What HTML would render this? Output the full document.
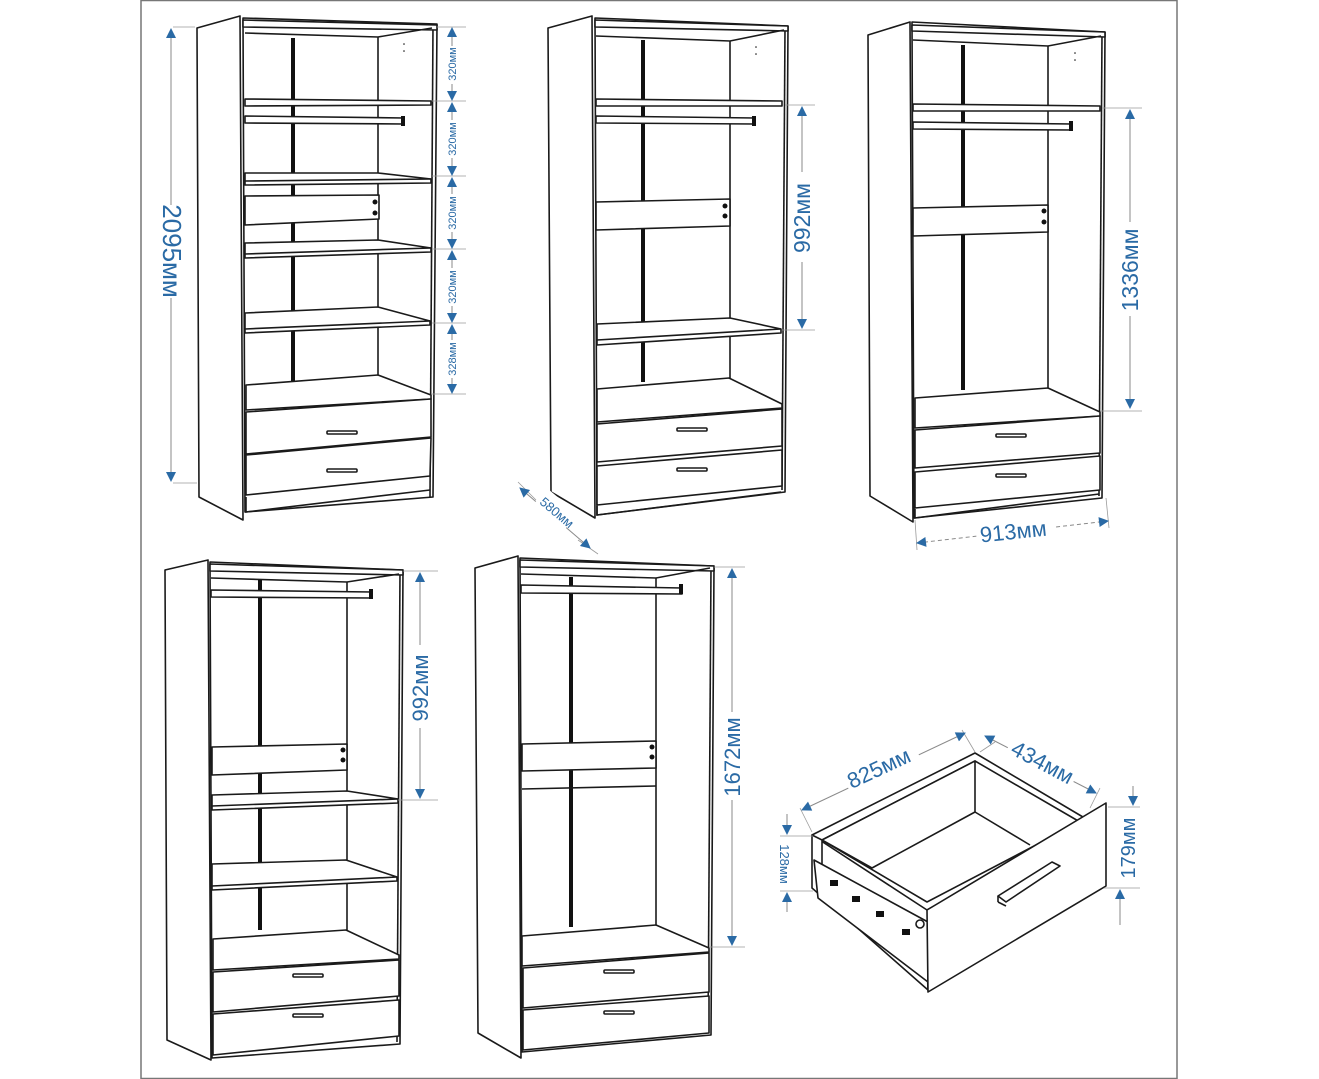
<!DOCTYPE html>
<html><head><meta charset="utf-8"><style>
html,body{margin:0;padding:0;background:#fff;}
svg{display:block;}
.k{fill:#fff;stroke:#1a1a1a;stroke-width:1.6;stroke-linejoin:round;}
.l{stroke:#1a1a1a;stroke-width:1.6;fill:none;}
.d{fill:#111;}
.dim{stroke:#8a8a8a;stroke-width:1;fill:none;}
.ext{stroke:#9a9a9a;stroke-width:0.8;fill:none;}
.t{fill:#2a6aa5;font-family:"Liberation Sans",sans-serif;}
</style></head><body>
<svg width="1319" height="1079" viewBox="0 0 1319 1079" xmlns="http://www.w3.org/2000/svg">
<defs>
<marker id="a" viewBox="0 0 10 10" refX="9" refY="5" markerWidth="14" markerHeight="10" markerUnits="userSpaceOnUse" orient="auto-start-reverse">
<path d="M0,0 L10,5 L0,10 z" fill="#2a6aa5"/></marker>
</defs>
<rect x="141" y="0.5" width="1036" height="1078" fill="none" stroke="#777" stroke-width="1.5"/>

<!-- ===== Wardrobe 1 ===== -->
<polygon class="k" points="197,28 240,16 243,520 199,497"/>
<polygon class="k" points="243,18 437,24 433,497 245,512"/>
<line class="l" x1="433" y1="26" x2="430" y2="497"/>
<polygon class="k" points="243,20 437,25 437,30 243,27"/>
<polyline class="l" points="245,33 378,37 432,28"/>
<line class="l" x1="378" y1="37" x2="378" y2="385"/>
<rect class="d" x="291" y="38" width="4" height="345"/>
<circle class="d" cx="404" cy="44" r="0.8"/><circle class="d" cx="404" cy="51" r="0.8"/>
<polygon class="k" points="245,99 431,101 431,105 245,106"/>
<polygon class="k" points="245,116 404,118 404,124 245,123"/>
<rect class="d" x="401" y="116" width="4" height="10"/>
<polygon class="k" points="245,173 378,173 431,179 431,183 245,185"/>
<line class="l" x1="245" y1="181" x2="431" y2="179"/>
<polygon class="k" points="245,196 379,195 379,219 245,225"/>
<circle class="d" cx="375" cy="202" r="2.5"/><circle class="d" cx="375" cy="213" r="2.5"/>
<polygon class="k" points="245,243 378,240 431,248 431,252 245,258"/>
<line class="l" x1="245" y1="254" x2="431" y2="248"/>
<polygon class="k" points="245,313 378,307 430,321 430,325 245,333"/>
<line class="l" x1="245" y1="329" x2="430" y2="321"/>
<polygon class="k" points="246,385 378,375 431,395 431,399 246,410"/>
<polygon class="k" points="246,412 431,399 431,437 246,454"/>
<polygon class="k" points="246,455 431,438 430,476 246,495"/>
<rect class="k" x="327" y="431" width="30" height="3" rx="1"/>
<rect class="k" x="327" y="469" width="30" height="3" rx="1"/>
<polyline class="l" points="246,497 246,512 430,490"/>
<!-- dims W1 -->
<line class="ext" x1="173" y1="27" x2="195" y2="27"/><line class="ext" x1="173" y1="483" x2="197" y2="483"/>
<line class="dim" x1="171" y1="29" x2="171" y2="205" marker-start="url(#a)"/>
<line class="dim" x1="171" y1="298" x2="171" y2="481" marker-end="url(#a)"/>
<text class="t" font-size="26" transform="translate(163,251) rotate(90)" text-anchor="middle">2095мм</text>
<g class="ext">
<line x1="437" y1="27" x2="466" y2="27"/><line x1="432" y1="101" x2="466" y2="101"/><line x1="432" y1="176" x2="466" y2="176"/><line x1="432" y1="249" x2="466" y2="249"/><line x1="432" y1="323" x2="466" y2="323"/><line x1="432" y1="394" x2="466" y2="394"/>
</g>
<g class="dim">
<line x1="452" y1="28" x2="452" y2="100" marker-start="url(#a)" marker-end="url(#a)"/>
<line x1="452" y1="103" x2="452" y2="175" marker-start="url(#a)" marker-end="url(#a)"/>
<line x1="452" y1="178" x2="452" y2="248" marker-start="url(#a)" marker-end="url(#a)"/>
<line x1="452" y1="251" x2="452" y2="322" marker-start="url(#a)" marker-end="url(#a)"/>
<line x1="452" y1="325" x2="452" y2="393" marker-start="url(#a)" marker-end="url(#a)"/>
</g>
<g class="t" font-size="11" text-anchor="middle">
<rect x="446" y="46" width="13" height="38" fill="#fff"/><text transform="translate(456,64) rotate(-90)">320мм</text>
<rect x="446" y="120" width="13" height="38" fill="#fff"/><text transform="translate(456,139) rotate(-90)">320мм</text>
<rect x="446" y="194" width="13" height="38" fill="#fff"/><text transform="translate(456,213) rotate(-90)">320мм</text>
<rect x="446" y="268" width="13" height="38" fill="#fff"/><text transform="translate(456,287) rotate(-90)">320мм</text>
<rect x="446" y="340" width="13" height="38" fill="#fff"/><text transform="translate(456,359) rotate(-90)">328мм</text>
</g>

<!-- ===== Wardrobe 2 ===== -->
<polygon class="k" points="548,28 592,16 595,518 551,492"/>
<polygon class="k" points="595,18 788,26 785,492 597,515"/>
<line class="l" x1="785" y1="28" x2="782" y2="490"/>
<polygon class="k" points="595,20 788,26 788,31 595,27"/>
<polyline class="l" points="596,36 730,41 784,30"/>
<line class="l" x1="730" y1="41" x2="730" y2="380"/>
<rect class="d" x="641" y="40" width="4" height="342"/>
<circle class="d" cx="756" cy="47" r="0.8"/><circle class="d" cx="756" cy="54" r="0.8"/>
<polygon class="k" points="596,99 782,101 782,106 596,106"/>
<polygon class="k" points="596,116 755,118 755,124 596,123"/>
<rect class="d" x="752" y="116" width="4" height="10"/>
<polygon class="k" points="596,202 730,199 730,226 596,230"/>
<circle class="d" cx="725" cy="206" r="2.5"/><circle class="d" cx="725" cy="216" r="2.5"/>
<polygon class="k" points="597,324 730,318 781,329 781,333 597,345"/>
<line class="l" x1="597" y1="340" x2="781" y2="329"/>
<polygon class="k" points="597,389 729,378 782,404 782,408 597,422"/>
<polygon class="k" points="597,424 782,409 782,446 597,462"/>
<polygon class="k" points="597,466 782,450 782,486 597,505"/>
<rect class="k" x="677" y="428" width="30" height="3" rx="1"/>
<rect class="k" x="677" y="468" width="30" height="3" rx="1"/>
<polyline class="l" points="597,506 597,515 781,492"/>
<g class="ext"><line x1="785" y1="105" x2="815" y2="105"/><line x1="782" y1="330" x2="815" y2="330"/></g>
<line class="dim" x1="802" y1="107" x2="802" y2="172" marker-start="url(#a)"/>
<line class="dim" x1="802" y1="262" x2="802" y2="328" marker-end="url(#a)"/>
<text class="t" font-size="23" transform="translate(810,218) rotate(-90)" text-anchor="middle">992мм</text>
<g class="ext"><line x1="518" y1="482" x2="536" y2="500"/><line x1="578" y1="540" x2="598" y2="554"/></g>
<line class="dim" x1="520" y1="488" x2="590" y2="548" marker-start="url(#a)" marker-end="url(#a)"/>
<rect x="534" y="498" width="40" height="26" fill="#fff" transform="rotate(40 554 511)"/>
<text class="t" font-size="13" transform="translate(554,516) rotate(40)" text-anchor="middle">580мм</text>

<!-- ===== Wardrobe 3 ===== -->
<polygon class="k" points="868,35 910,22 913,522 870,496"/>
<polygon class="k" points="912,22 1105,32 1102,498 914,518"/>
<line class="l" x1="1102" y1="34" x2="1099" y2="496"/>
<polygon class="k" points="912,25 1105,32 1105,37 912,31"/>
<polyline class="l" points="913,40 1048,46 1101,36"/>
<line class="l" x1="1048" y1="46" x2="1048" y2="390"/>
<rect class="d" x="961" y="45" width="4" height="345"/>
<circle class="d" cx="1075" cy="53" r="0.8"/><circle class="d" cx="1075" cy="60" r="0.8"/>
<polygon class="k" points="913,104 1100,106 1100,111 913,111"/>
<polygon class="k" points="913,122 1072,124 1072,130 913,129"/>
<rect class="d" x="1069" y="121" width="4" height="10"/>
<polygon class="k" points="913,208 1048,205 1048,232 913,236"/>
<circle class="d" cx="1044" cy="211" r="2.5"/><circle class="d" cx="1044" cy="222" r="2.5"/>
<polygon class="k" points="915,398 1048,388 1100,412 1100,416 915,428"/>
<polygon class="k" points="915,430 1100,416 1100,453 915,468"/>
<polygon class="k" points="915,472 1100,456 1100,490 915,508"/>
<rect class="k" x="996" y="434" width="30" height="3" rx="1"/>
<rect class="k" x="996" y="474" width="30" height="3" rx="1"/>
<polyline class="l" points="915,509 915,518 1099,494"/>
<g class="ext"><line x1="1102" y1="108" x2="1142" y2="108"/><line x1="1100" y1="411" x2="1142" y2="411"/></g>
<line class="dim" x1="1130" y1="110" x2="1130" y2="222" marker-start="url(#a)"/>
<line class="dim" x1="1130" y1="316" x2="1130" y2="408" marker-end="url(#a)"/>
<text class="t" font-size="23" transform="translate(1138,270) rotate(-90)" text-anchor="middle">1336мм</text>
<g class="ext"><line x1="915" y1="520" x2="917" y2="550"/><line x1="1106" y1="498" x2="1109" y2="528"/></g>
<line class="dim" x1="917" y1="543" x2="1108" y2="521" stroke-dasharray="4 3" marker-start="url(#a)" marker-end="url(#a)"/>
<rect x="976" y="518" width="78" height="26" fill="#fff" transform="rotate(-6 1014 531)"/>
<text class="t" font-size="22" transform="translate(1014,539) rotate(-6)" text-anchor="middle">913мм</text>

<!-- ===== Wardrobe 4 ===== -->
<polygon class="k" points="165,570 208,560 211,1060 167,1040"/>
<polygon class="k" points="210,562 403,570 400,1044 212,1058"/>
<line class="l" x1="400" y1="572" x2="397" y2="1042"/>
<polygon class="k" points="210,564 403,570 403,575 210,571"/>
<polyline class="l" points="211,578 347,582 399,574"/>
<line class="l" x1="347" y1="582" x2="347" y2="930"/>
<rect class="d" x="258" y="580" width="4" height="350"/>
<polygon class="k" points="211,590 372,592 372,598 211,597"/>
<rect class="d" x="369" y="589" width="4" height="10"/>
<polygon class="k" points="212,747 347,744 347,770 212,775"/>
<circle class="d" cx="343" cy="750" r="2.5"/><circle class="d" cx="343" cy="760" r="2.5"/>
<polygon class="k" points="212,795 347,791 398,799 398,803 212,810"/>
<line class="l" x1="212" y1="806" x2="398" y2="799"/>
<polygon class="k" points="212,864 346,860 397,877 397,881 212,890"/>
<line class="l" x1="212" y1="886" x2="397" y2="877"/>
<polygon class="k" points="213,939 346,930 399,955 399,959 213,970"/>
<polygon class="k" points="213,972 399,960 399,996 213,1012"/>
<polygon class="k" points="213,1014 399,1000 399,1036 213,1055"/>
<rect class="k" x="293" y="974" width="30" height="3" rx="1"/>
<rect class="k" x="293" y="1014" width="30" height="3" rx="1"/>
<g class="ext"><line x1="403" y1="571" x2="438" y2="571"/><line x1="398" y1="800" x2="438" y2="800"/></g>
<line class="dim" x1="420" y1="573" x2="420" y2="645" marker-start="url(#a)"/>
<line class="dim" x1="420" y1="728" x2="420" y2="798" marker-end="url(#a)"/>
<text class="t" font-size="22" transform="translate(428,688) rotate(-90)" text-anchor="middle">992мм</text>

<!-- ===== Wardrobe 5 ===== -->
<polygon class="k" points="475,568 518,556 521,1058 478,1033"/>
<polygon class="k" points="520,558 714,566 711,1035 522,1052"/>
<line class="l" x1="711" y1="568" x2="708" y2="1033"/>
<polygon class="k" points="520,560 714,566 714,571 520,567"/>
<polyline class="l" points="521,574 656,578 710,568"/>
<line class="l" x1="656" y1="578" x2="656" y2="925"/>
<rect class="d" x="569" y="577" width="4" height="350"/>
<polygon class="k" points="521,585 682,588 682,594 521,593"/>
<rect class="d" x="679" y="584" width="4" height="10"/>
<polygon class="k" points="522,744 656,741 656,768 522,771"/>
<circle class="d" cx="652" cy="747" r="2.5"/><circle class="d" cx="652" cy="757" r="2.5"/>
<line class="l" x1="522" y1="789" x2="656" y2="786"/>
<polygon class="k" points="522,936 656,925 709,948 709,952 522,966"/>
<polygon class="k" points="523,968 709,953 709,992 523,1008"/>
<polygon class="k" points="523,1010 709,996 709,1033 523,1050"/>
<rect class="k" x="604" y="970" width="30" height="3" rx="1"/>
<rect class="k" x="604" y="1011" width="30" height="3" rx="1"/>
<g class="ext"><line x1="714" y1="567" x2="745" y2="567"/><line x1="709" y1="947" x2="745" y2="947"/></g>
<line class="dim" x1="732" y1="569" x2="732" y2="712" marker-start="url(#a)"/>
<line class="dim" x1="732" y1="800" x2="732" y2="945" marker-end="url(#a)"/>
<text class="t" font-size="22" transform="translate(740,757) rotate(-90)" text-anchor="middle">1672мм</text>

<!-- ===== Drawer ===== -->
<polygon class="k" points="812,835 975,753 1088,820 927,910"/>
<polygon class="k" points="822,840 975,761 1080,822 927,902"/>
<polygon class="k" points="975,761 975,812 872,868 822,840"/>
<polyline class="l" points="975,812 1030,845"/>
<polygon class="k" points="812,835 822,840 822,885 926,938 928,990 812,888"/>
<polygon class="k" points="814,860 928,922 928,982 818,898"/>
<g class="d">
<rect x="830" y="880" width="8" height="6"/><rect x="852" y="896" width="8" height="6"/><rect x="876" y="911" width="8" height="6"/><rect x="902" y="929" width="8" height="6"/>
</g>
<circle class="k" cx="920" cy="924" r="4"/>
<polygon class="k" points="927,910 1106,803 1106,886 928,992"/>
<polygon class="k" points="998,896 1052,862 1060,866 1006,902"/>
<line class="l" x1="998" y1="896" x2="998" y2="902"/><line class="l" x1="998" y1="902" x2="1006" y2="906"/>
<!-- drawer dims -->
<g class="ext"><line x1="800" y1="808" x2="812" y2="832"/><line x1="962" y1="730" x2="975" y2="752"/><line x1="995" y1="742" x2="980" y2="752"/><line x1="1100" y1="788" x2="1090" y2="808"/>
<line x1="780" y1="836" x2="813" y2="836"/><line x1="780" y1="891" x2="813" y2="891"/>
<line x1="1108" y1="807" x2="1140" y2="807"/><line x1="1104" y1="888" x2="1140" y2="888"/></g>
<line class="dim" x1="802" y1="810" x2="965" y2="733" marker-start="url(#a)" marker-end="url(#a)"/>
<rect x="842" y="752" width="78" height="28" fill="#fff" transform="rotate(-25 881 766)"/>
<text class="t" font-size="22" transform="translate(882,775) rotate(-25)" text-anchor="middle">825мм</text>
<line class="dim" x1="985" y1="736" x2="1096" y2="793" marker-start="url(#a)" marker-end="url(#a)"/>
<rect x="1004" y="750" width="74" height="28" fill="#fff" transform="rotate(28 1041 764)"/>
<text class="t" font-size="22" transform="translate(1039,769) rotate(28)" text-anchor="middle">434мм</text>
<line class="dim" x1="787" y1="814" x2="787" y2="834" marker-end="url(#a)"/>
<line class="dim" x1="787" y1="912" x2="787" y2="893" marker-end="url(#a)"/>
<text class="t" font-size="13" transform="translate(780,864) rotate(90)" text-anchor="middle">128мм</text>
<line class="dim" x1="1133" y1="786" x2="1133" y2="805" marker-end="url(#a)"/>
<line class="dim" x1="1120" y1="925" x2="1120" y2="890" marker-end="url(#a)"/>
<text class="t" font-size="20" transform="translate(1135,848) rotate(-90)" text-anchor="middle">179мм</text>
</svg>
</body></html>
